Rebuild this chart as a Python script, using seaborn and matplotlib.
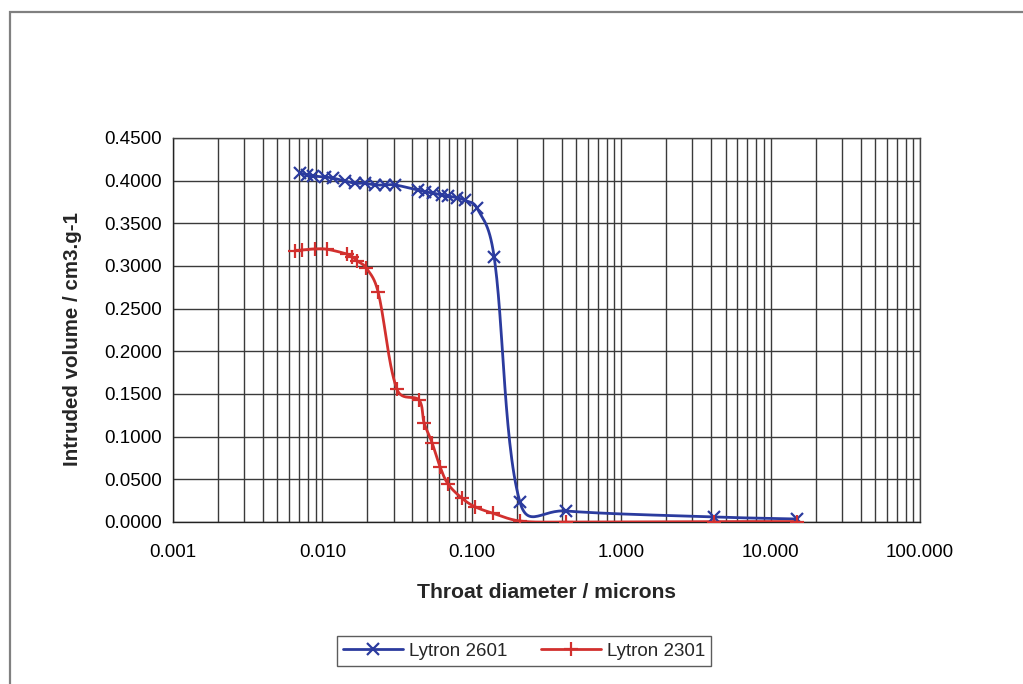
import numpy as np
import pandas as pd
import matplotlib
matplotlib.use("Agg")
import matplotlib.pyplot as plt
from matplotlib.lines import Line2D
from matplotlib.patches import Rectangle
from matplotlib.ticker import LogLocator, FixedLocator, FuncFormatter, NullFormatter
import seaborn as sns

# Mercury intrusion data: throat diameter (microns) vs cumulative intruded volume (cm3/g)
lytron_2601_diam = [0.00708, 0.00789, 0.00865, 0.0104, 0.01178, 0.01417, 0.01653,
                    0.01928, 0.02249, 0.02624, 0.0306, 0.0436, 0.0486, 0.0550,
                    0.0631, 0.0693, 0.0796, 0.0900, 0.1083, 0.141, 0.210, 0.427,
                    4.18, 15.0]
lytron_2601_vol = [0.409, 0.4066, 0.4055, 0.4043, 0.403, 0.3996, 0.397,
                   0.397, 0.395, 0.395, 0.395, 0.389, 0.387, 0.3855,
                   0.383, 0.382, 0.380, 0.377, 0.368, 0.311, 0.0234, 0.0129,
                   0.0059, 0.0035]

lytron_2301_diam = [0.00656, 0.00731, 0.00892, 0.01074, 0.01461, 0.01578, 0.01706,
                    0.01959, 0.02356, 0.03158, 0.0443, 0.0479, 0.0542, 0.0613,
                    0.0693, 0.0860, 0.1050, 0.1387, 0.210, 0.427, 4.18, 15.0]
lytron_2301_vol = [0.318, 0.3188, 0.320, 0.3196, 0.314, 0.311, 0.306,
                   0.298, 0.270, 0.1555, 0.143, 0.1164, 0.0929, 0.0648,
                   0.0445, 0.0278, 0.0179, 0.0102, 0.0012, 0.0, 0.0005, 0.0005]

series_names = ["Lytron 2601", "Lytron 2301"]
series_colors = ["#2b3b9e", "#d2302e"]
series_markers = ["x", "+"]

x_tick_values = [0.001, 0.01, 0.1, 1, 10, 100]
y_tick_values = [0.0, 0.05, 0.10, 0.15, 0.20, 0.25, 0.30, 0.35, 0.40, 0.45]


def smooth_curve(xs, ys, yscale=5.712, steps=30):
    """Bezier smoothing through the points in log-x display space,
    with control arms weighted by neighbouring segment lengths."""
    u = np.log10(np.asarray(xs, float))
    v = np.asarray(ys, float) * yscale
    P = np.column_stack([u, v])
    n = len(P)
    seglen = np.hypot(*np.diff(P, axis=0).T)
    out = [P[0]]
    for i in range(n - 1):
        p1, p2 = P[i], P[i + 1]
        L = seglen[i]
        if i > 0:
            w1 = 0.5 * (0.5 + L / (seglen[i - 1] + L))
            c1 = p1 + (p2 - P[i - 1]) * w1 / 3.0
        else:
            c1 = p1 + (p2 - p1) / 3.0
        if i + 2 < n:
            w2 = 0.5 * (0.5 + L / (seglen[i + 1] + L))
            c2 = p2 - (P[i + 2] - p1) * w2 / 3.0
        else:
            c2 = p2 - (p2 - p1) / 3.0
        t = np.linspace(0, 1, steps)[1:, None]
        seg = ((1 - t) ** 3) * p1 + 3 * ((1 - t) ** 2) * t * c1 + 3 * (1 - t) * t ** 2 * c2 + t ** 3 * p2
        out.extend(seg)
    out = np.array(out)
    return 10 ** out[:, 0], out[:, 1] / yscale


sns.set_theme(style="white")
plt.rcParams["font.family"] = ["Liberation Sans", "DejaVu Sans"]

fig = plt.figure(figsize=(10.23, 6.84), dpi=100)
ax = fig.add_axes([173 / 1023, 1 - 522 / 684, 747 / 1023, 384 / 684])

frames = []
for name, xs, ys in [(series_names[0], lytron_2601_diam, lytron_2601_vol),
                     (series_names[1], lytron_2301_diam, lytron_2301_vol)]:
    sx, sy = smooth_curve(xs, ys)
    frames.append(pd.DataFrame({"diam": sx, "vol": sy, "series": name}))
curves = pd.concat(frames, ignore_index=True)
points = pd.concat([
    pd.DataFrame({"diam": lytron_2601_diam, "vol": lytron_2601_vol, "series": series_names[0]}),
    pd.DataFrame({"diam": lytron_2301_diam, "vol": lytron_2301_vol, "series": series_names[1]}),
], ignore_index=True)

palette = dict(zip(series_names, series_colors))

sns.lineplot(data=curves, x="diam", y="vol", hue="series", palette=palette,
             sort=False, estimator=None, linewidth=2.0,
             legend=False, ax=ax, zorder=3)
for name, mk in zip(series_names, series_markers):
    sub = points[points["series"] == name]
    ax.plot(sub["diam"], sub["vol"], linestyle="none", marker=mk,
            markersize=10 if mk == "+" else 8.5, markeredgewidth=1.6,
            color=palette[name], zorder=4)

ax.set_xscale("log")
ax.set_xlim(0.001, 100)
ax.set_ylim(0, 0.45)

grid_color = "#3a3a3a"
ax.xaxis.set_major_locator(FixedLocator(x_tick_values))
ax.xaxis.set_minor_locator(LogLocator(base=10, subs=np.arange(2, 10)))
ax.xaxis.set_minor_formatter(NullFormatter())
ax.xaxis.set_major_formatter(FuncFormatter(lambda v, p: f"{v:.3f}"))
ax.yaxis.set_major_locator(FixedLocator(y_tick_values))
ax.yaxis.set_major_formatter(FuncFormatter(lambda v, p: f"{v:.4f}"))

ax.grid(True, which="major", axis="both", color=grid_color, linewidth=1.0)
ax.grid(True, which="minor", axis="x", color=grid_color, linewidth=1.0)
ax.set_axisbelow(True)

for s in ax.spines.values():
    s.set_color("#444444")
    s.set_linewidth(1.0)
ax.spines["left"].set_color("#222222")
ax.spines["bottom"].set_color("#222222")

ax.tick_params(axis="both", which="major", direction="out", length=4, width=1,
               color="#222222", labelsize=13.5, labelcolor="black")
ax.tick_params(axis="x", which="major", pad=12)
ax.tick_params(axis="y", which="major", pad=4)
ax.tick_params(axis="x", which="minor", length=0)
ax.tick_params(top=False, right=False)

ax.set_xlabel("Throat diameter / microns", fontsize=15.2, fontweight="bold")
ax.set_ylabel("Intruded volume / cm3.g-1", fontsize=14.8, fontweight="bold")
ax.xaxis.set_label_coords(0.5, (522 - 593) / 384)
ax.xaxis.label.set_va("center")
ax.yaxis.set_label_coords((72 - 173) / 747, (522 - 338.5) / 384)
ax.yaxis.label.set_va("center")
ax.yaxis.label.set_ha("center")

handles = [Line2D([], [], color=c, marker=m, markersize=10 if m == "+" else 8.5,
                  markeredgewidth=1.6, linewidth=2.0)
           for c, m in zip(series_colors, series_markers)]
leg = fig.legend(handles, series_names, loc="center",
                 bbox_to_anchor=(524 / 1023, 1 - 651 / 684), ncol=2,
                 frameon=True, fancybox=False, edgecolor="#333333",
                 fontsize=13.5, handlelength=3.2, columnspacing=1.8,
                 handletextpad=0.3, borderpad=0.35)
leg.get_frame().set_linewidth(1.0)

# outer chart-area border
fig.patches.append(Rectangle((10 / 1023, -0.05), 1.2, 1 - 12 / 684 + 0.05,
                             transform=fig.transFigure, fill=False,
                             edgecolor="#808080", linewidth=1.6, clip_on=False))

fig.savefig("out.png", dpi=100, facecolor="white")
